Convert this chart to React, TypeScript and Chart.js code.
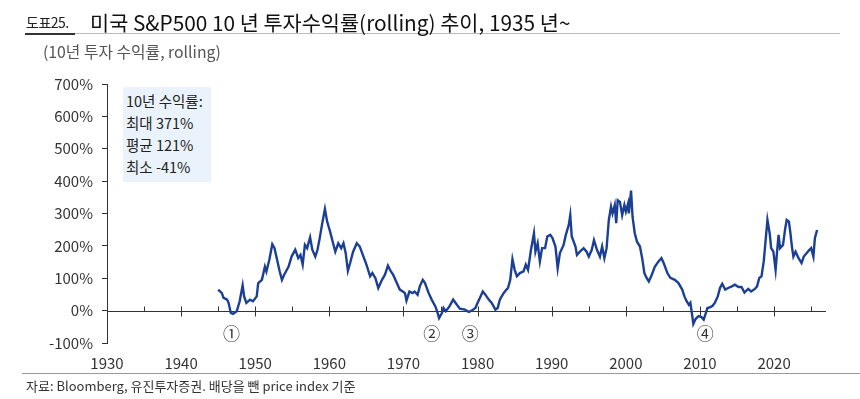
import React, { useEffect, useRef } from "react";
import { Chart, registerables } from "chart.js";

Chart.register(...registerables);

const YEARS: number[] = [
  1945.0, 1945.5, 1945.7, 1946.2, 1946.4, 1946.7, 1947.0, 1947.5, 1947.9, 1948.3, 1948.5, 1948.8, 1949.3, 1949.7,
  1950.2, 1950.4, 1950.9, 1951.3, 1951.5, 1951.9, 1952.3, 1952.6, 1952.9, 1953.3, 1953.6, 1953.9, 1954.5, 1954.9,
  1955.4, 1955.8, 1956.1, 1956.4, 1956.7, 1957.0, 1957.4, 1957.7, 1958.1, 1958.4, 1958.7, 1959.0, 1959.4, 1959.7,
  1960.1, 1960.5, 1960.8, 1961.2, 1961.6, 1961.9, 1962.2, 1962.5, 1962.8, 1963.2, 1963.7, 1964.1, 1964.6,
  1965.0, 1965.5, 1965.8, 1966.2, 1966.6, 1967.1, 1967.5, 1967.9, 1968.3, 1968.6, 1969.1, 1969.5, 1969.9,
  1970.2, 1970.4, 1970.8, 1971.2, 1971.5, 1971.9, 1972.2, 1972.6, 1972.9, 1973.4, 1973.8, 1974.3, 1974.6, 1974.8,
  1975.2, 1975.4, 1975.7, 1976.2, 1976.7, 1977.2, 1977.6, 1978.3, 1978.8, 1979.2, 1979.7,
  1980.0, 1980.3, 1980.7, 1981.0, 1981.5, 1981.9, 1982.4, 1982.7, 1983.0, 1983.5, 1983.9, 1984.1, 1984.4, 1984.7,
  1985.0, 1985.3, 1985.7, 1986.2, 1986.5, 1986.8, 1987.2, 1987.6, 1987.8, 1988.1, 1988.4, 1988.7, 1989.1, 1989.4, 1989.8,
  1990.1, 1990.5, 1990.8, 1991.1, 1991.6, 1991.9, 1992.3, 1992.5, 1992.7, 1993.2, 1993.4, 1993.8, 1994.3, 1994.7,
  1995.0, 1995.4, 1995.7, 1996.1, 1996.5, 1996.8, 1997.1, 1997.4, 1997.7, 1998.0, 1998.2, 1998.5, 1998.7, 1998.9,
  1999.2, 1999.5, 1999.8, 2000.0, 2000.3, 2000.4, 2000.7, 2000.9, 2001.2, 2001.5, 2001.9, 2002.2, 2002.5, 2002.8,
  2003.1, 2003.5, 2003.9, 2004.4, 2004.8, 2005.1, 2005.6, 2006.0, 2006.6, 2007.1, 2007.6, 2007.9, 2008.2, 2008.5,
  2008.7, 2008.9, 2009.1, 2009.4, 2009.8, 2010.2, 2010.5, 2010.8, 2011.0, 2011.4, 2011.7, 2012.0, 2012.4, 2012.7,
  2013.0, 2013.4, 2013.8, 2014.3, 2014.7, 2015.2, 2015.6, 2016.0, 2016.5, 2016.9, 2017.4, 2017.7, 2018.0, 2018.3,
  2018.6, 2018.8, 2019.1, 2019.4, 2019.6, 2019.9, 2020.2, 2020.4, 2020.6, 2020.8, 2021.2, 2021.5, 2021.7, 2022.0,
  2022.2, 2022.4, 2022.6, 2022.9, 2023.3, 2023.7, 2024.0, 2024.4, 2024.7, 2025.0, 2025.3, 2025.5, 2025.8,
];

const RETURNS: number[] = [
  65, 54, 40, 34, 24, -7, -10, -2, 29, 78, 44, 24, 34, 29,
  44, 85, 95, 136, 121, 157, 205, 193, 162, 121, 95, 111, 136, 167,
  188, 162, 172, 142, 203, 193, 226, 188, 167, 188, 224, 265, 314, 275,
  244, 208, 182, 208, 193, 208, 178, 123, 147, 182, 208, 198, 167,
  142, 106, 116, 101, 70, 95, 111, 139, 121, 111, 85, 65, 59,
  54, 31, 59, 54, 59, 49, 75, 95, 85, 54, 34, 13, -7, -23,
  -7, 8, -2, 13, 34, 18, 6, 3, -4, 0, 8,
  24, 39, 59, 51, 34, 24, 3, 8, 34, 54, 65, 70, 95, 159,
  126, 106, 116, 121, 142, 126, 188, 239, 182, 208, 152, 193, 193, 229, 234,
  224, 198, 131, 178, 203, 234, 265, 295, 229, 198, 172, 182, 193, 182,
  167, 188, 218, 188, 167, 198, 162, 193, 280, 321, 300, 326, 270, 341,
  336, 295, 326, 306, 331, 300, 371, 290, 239, 213, 198, 162, 116, 101,
  90, 111, 135, 152, 162, 147, 116, 101, 95, 85, 65, 44, 29, 18,
  24, -7, -41, -26, -17, -20, -28, -7, 8, 11, 15, 24, 44, 70,
  83, 65, 70, 75, 80, 73, 73, 56, 67, 59, 67, 75, 101, 106,
  152, 203, 280, 239, 193, 182, 126, 182, 234, 193, 203, 254, 280, 275,
  239, 198, 167, 182, 162, 147, 167, 178, 186, 193, 167, 224, 249,
];

const X_TICKS: number[] = [1930, 1940, 1950, 1960, 1970, 1980, 1990, 2000, 2010, 2020];
const Y_MIN = -100;
const Y_MAX = 700;
const X_MIN = 1930;
const X_MAX = 2027;

const MARKER_LABELS: string[] = ["①", "②", "③", "④"];
const MARKER_YEARS: number[] = [1946.8, 1973.8, 1979.0, 2010.7];
const MARKER_VALUE = -72;

const STATS_LINES: string[] = ["10년 수익률:", "최대 371%", "평균 121%", "최소 -41%"];

const LINE_COLOR = "#1c3f96";
const AXIS_COLOR = "#333333";
const FONT_UI = "'Noto Sans CJK KR', 'Noto Sans', sans-serif";

const zeroAxisPlugin = {
  id: "zeroAxis",
  beforeDatasetsDraw(chart: any) {
    const { ctx, scales } = chart;
    const x = scales.x;
    const y = scales.y;
    const y0 = Math.round(y.getPixelForValue(0)) + 0.5;
    ctx.save();
    ctx.strokeStyle = AXIS_COLOR;
    ctx.lineWidth = 1;
    ctx.beginPath();
    ctx.moveTo(x.left, y0);
    ctx.lineTo(x.right, y0);
    for (let yr = X_MIN + 5; yr <= X_MAX; yr += 5) {
      const px = Math.round(x.getPixelForValue(yr)) + 0.5;
      const major = yr % 10 === 0;
      ctx.moveTo(px, y0 - 5);
      ctx.lineTo(px, major ? y0 + 5 : y0);
    }
    ctx.stroke();
    ctx.restore();
  },
  afterDraw(chart: any) {
    const { ctx, scales } = chart;
    const x = scales.x;
    const y = scales.y;
    ctx.save();
    ctx.fillStyle = "#333";
    ctx.font = `17px ${FONT_UI}`;
    ctx.textAlign = "center";
    ctx.textBaseline = "middle";
    MARKER_LABELS.forEach((lab, i) => {
      ctx.fillText(lab, x.getPixelForValue(MARKER_YEARS[i]), y.getPixelForValue(MARKER_VALUE));
    });
    ctx.restore();
  },
};

export default function App() {
  const canvasRef = useRef<HTMLCanvasElement | null>(null);

  useEffect(() => {
    if (!canvasRef.current) return;
    const data = YEARS.map((yr, i) => ({ x: yr, y: RETURNS[i] }));
    const chart = new Chart(canvasRef.current, {
      type: "line",
      data: {
        datasets: [
          {
            data,
            borderColor: LINE_COLOR,
            borderWidth: 2.4,
            pointRadius: 0,
            tension: 0,
            fill: false,
          },
        ],
      },
      options: {
        animation: false,
        responsive: false,
        devicePixelRatio: 1,
        layout: { padding: { left: 0, top: 84, right: 34, bottom: 14 } },
        plugins: { legend: { display: false }, tooltip: { enabled: false } },
        scales: {
          x: {
            type: "linear",
            min: X_MIN,
            max: X_MAX,
            grid: { display: false, drawTicks: false },
            border: { display: false },
            afterBuildTicks: (s: any) => {
              s.ticks = X_TICKS.map((v) => ({ value: v }));
            },
            afterFit: (s: any) => {
              s.height = 42;
            },
            ticks: {
              autoSkip: false,
              maxRotation: 0,
              padding: 11,
              color: "#333",
              font: { family: FONT_UI, size: 15 },
              callback: (v: any) => String(v),
            },
          },
          y: {
            min: Y_MIN,
            max: Y_MAX,
            grid: { drawOnChartArea: false, drawTicks: true, tickLength: 5, color: AXIS_COLOR },
            border: { display: true, color: AXIS_COLOR },
            afterFit: (s: any) => {
              s.width = 107;
            },
            ticks: {
              stepSize: 100,
              padding: 9,
              color: "#333",
              font: { family: FONT_UI, size: 15 },
              callback: (v: any) => `${v}%`,
            },
          },
        },
      },
      plugins: [zeroAxisPlugin],
    } as any);
    return () => chart.destroy();
  }, []);

  return (
    <div
      style={{
        position: "absolute",
        left: 0,
        top: 0,
        width: 860,
        height: 399,
        background: "#fff",
        overflow: "hidden",
        fontFamily: FONT_UI,
      }}
    >
      <canvas ref={canvasRef} width={860} height={399} style={{ position: "absolute", left: 0, top: 0 }} />
      <div
        style={{
          position: "absolute",
          left: 25,
          top: 8,
          width: 815,
          height: 25,
          borderBottom: "1px solid #bbb",
        }}
      />
      <div
        style={{
          position: "absolute",
          left: 25,
          top: 8,
          width: 50,
          height: 25,
          borderBottom: "2px solid #333",
        }}
      />
      <div
        style={{
          position: "absolute",
          left: 26,
          top: 11,
          fontSize: 14,
          color: "#222",
          whiteSpace: "nowrap",
          lineHeight: "22px",
          letterSpacing: -0.5,
        }}
      >
        도표25.
      </div>
      <div
        style={{
          position: "absolute",
          left: 90,
          top: 8,
          fontSize: 20.8,
          color: "#111",
          whiteSpace: "nowrap",
          lineHeight: "28px",
        }}
      >
        미국 S&amp;P500 10 년 투자수익률(rolling) 추이, 1935 년~
      </div>
      <div
        style={{
          position: "absolute",
          left: 43,
          top: 41,
          fontSize: 15.8,
          color: "#555",
          whiteSpace: "nowrap",
          lineHeight: "22px",
        }}
      >
        (10년 투자 수익률, rolling)
      </div>
      <div
        style={{
          position: "absolute",
          left: 123,
          top: 87,
          width: 88,
          height: 95,
          background: "#eaf2fb",
        }}
      />
      {STATS_LINES.map((t, i) => (
        <div
          key={i}
          style={{
            position: "absolute",
            left: 126,
            top: 90 + i * 22,
            fontSize: 14.5,
            color: "#222",
            whiteSpace: "nowrap",
            lineHeight: "22px",
          }}
        >
          {t}
        </div>
      ))}
      <div
        style={{
          position: "absolute",
          left: 22,
          top: 373,
          width: 838,
          height: 0,
          borderTop: "1px solid #999",
        }}
      />
      <div
        style={{
          position: "absolute",
          left: 26,
          top: 376,
          fontSize: 13,
          color: "#333",
          whiteSpace: "nowrap",
          lineHeight: "20px",
        }}
      >
        자료: Bloomberg, 유진투자증권. 배당을 뺀 price index 기준
      </div>
    </div>
  );
}
